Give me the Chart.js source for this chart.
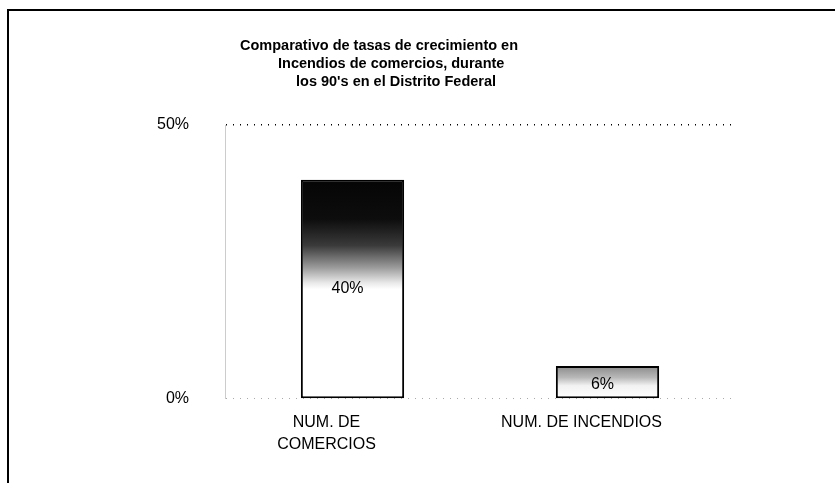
<!DOCTYPE html>
<html>
<head>
<meta charset="utf-8">
<script src="https://cdn.jsdelivr.net/npm/chart.js@4/dist/chart.umd.min.js"></script>
<style>
  html, body { margin: 0; padding: 0; background: #fff; }
  #wrap { position: relative; width: 835px; height: 483px; }
</style>
</head>
<body>
<div id="wrap"><canvas id="tasasChart" width="835" height="483"></canvas></div>
<script>
const categories = [["NUM. DE", "COMERCIOS"], "NUM. DE INCENDIOS"];
const tasas = [40, 6];
const yTicks = [0, 50];
const titleLines = [
  "Comparativo de tasas de crecimiento en",
  "Incendios de comercios, durante",
  "los 90's en el Distrito Federal",
];

const FONT = "Arial, 'Liberation Sans', sans-serif";

// frame + title drawn on the canvas
const framePlugin = {
  id: "frame",
  beforeDraw(chart) {
    const ctx = chart.ctx;
    ctx.save();
    ctx.strokeStyle = "#000";
    ctx.lineWidth = 2;
    ctx.beginPath();
    ctx.moveTo(8, 483);
    ctx.lineTo(8, 10);
    ctx.lineTo(835, 10);
    ctx.stroke();
    ctx.fillStyle = "#000";
    ctx.font = "bold 14.5px " + FONT;
    ctx.textBaseline = "middle";
    const xs = [240, 278, 296];
    titleLines.forEach((line, i) => {
      ctx.fillText(line, xs[i], 46 + i * 18);
    });
    ctx.restore();
  },
};

const valueLabels = {
  id: "valueLabels",
  afterDatasetsDraw(chart) {
    const ctx = chart.ctx;
    const meta = chart.getDatasetMeta(0);
    ctx.save();
    ctx.fillStyle = "#000";
    ctx.font = "16px " + FONT;
    ctx.textAlign = "center";
    ctx.textBaseline = "middle";
    meta.data.forEach((bar, i) => {
      const mid = (bar.y + bar.base) / 2;
      ctx.fillText(tasas[i] + "%", bar.x - 5, mid + (i === 0 ? 0 : 2));
    });
    ctx.restore();
  },
};

function barFill(context) {
  const chart = context.chart;
  if (!chart.chartArea) return "#fff";
  const y = chart.scales.y;
  const top = y.getPixelForValue(tasas[context.dataIndex]);
  const base = y.getPixelForValue(0);
  const g = chart.ctx.createLinearGradient(0, top, 0, base);
  if (context.dataIndex === 0) {
    g.addColorStop(0, "#050505");
    g.addColorStop(0.18, "#0d0d0d");
    g.addColorStop(0.3, "#3a3a3a");
    g.addColorStop(0.4, "#9a9a9a");
    g.addColorStop(0.47, "#e8e8e8");
    g.addColorStop(0.5, "#fff");
    g.addColorStop(1, "#fff");
  } else {
    g.addColorStop(0, "#8a8a8a");
    g.addColorStop(0.35, "#b8b8b8");
    g.addColorStop(0.6, "#f2f2f2");
    g.addColorStop(1, "#fff");
  }
  return g;
}

new Chart(document.getElementById("tasasChart"), {
  type: "bar",
  data: {
    labels: categories,
    datasets: [
      {
        data: tasas,
        backgroundColor: barFill,
        borderColor: "#000",
        borderWidth: 2,
        borderSkipped: false,
        barPercentage: 0.81,
        categoryPercentage: 0.5,
      },
    ],
  },
  options: {
    responsive: false,
    animation: false,
    layout: { padding: { top: 125, left: 0, right: 100, bottom: 23 } },
    plugins: {
      legend: { display: false },
      title: { display: false },
      tooltip: { enabled: false },
    },
    scales: {
      x: {
        grid: { display: false },
        border: { display: false },
        ticks: {
          color: "#000",
          padding: 5,
          labelOffset: -26,
          font: { family: FONT, size: 16, lineHeight: 1.35 },
          maxRotation: 0,
          autoSkip: false,
        },
      },
      y: {
        min: 0,
        max: 50,
        afterBuildTicks: (s) => { s.ticks = yTicks.map((v) => ({ value: v })); },
        grid: {
          color: (c) => (c.tick.value === 50 ? "#000" : "#aaa"),
          lineWidth: (c) => (c.tick.value === 50 ? 1.5 : 1),
          drawTicks: false,
        },
        border: { display: true, color: "#ccc", dash: [1, 6] },
        ticks: {
          color: "#000",
          padding: 36,
          font: { family: FONT, size: 16 },
          callback: (v) => v + "%",
        },
        afterFit: (s) => { s.width = 225; },
      },
    },
  },
  plugins: [framePlugin, valueLabels],
});
</script>
</body>
</html>
